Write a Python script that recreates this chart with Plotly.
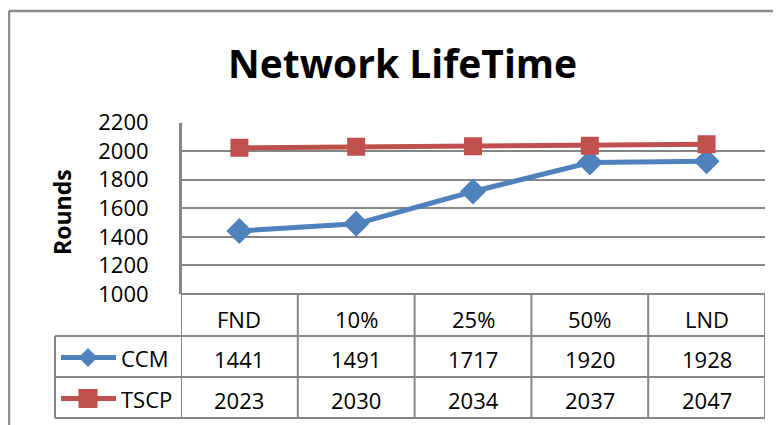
import plotly.graph_objects as go

categories = ["FND", "10%", "25%", "50%", "LND"]
ccm = [1441, 1491, 1717, 1920, 1928]
tscp = [2023, 2030, 2034, 2037, 2047]
series_names = ["CCM", "TSCP"]
y_ticks = [1000, 1200, 1400, 1600, 1800, 2000, 2200]

W, H = 781, 425
OFF = 8  # page body margin
BLUE = "#4F81BD"
RED = "#C0504D"
GRID = "#868686"
FONT = "Open Sans"


def px(x):
    return (x - OFF) / W


def py(y):
    return 1 - (y - OFF) / H


PL, PR, PT, PB = 181, 765, 122.5, 294
ROW1, ROW2, ROW3 = 336, 377, 418
LEGX = 55

fig = go.Figure()
fig.add_trace(go.Scatter(
    x=list(range(len(categories))), y=ccm, name=series_names[0], mode="lines+markers",
    line=dict(color=BLUE, width=5), marker=dict(symbol="diamond", size=20, color=BLUE),
    showlegend=False))
fig.add_trace(go.Scatter(
    x=list(range(len(categories))), y=tscp, name=series_names[1], mode="lines+markers",
    line=dict(color=RED, width=5), marker=dict(symbol="square", size=18, color=RED),
    showlegend=False))

shapes = []
# outer chart border
shapes.append(dict(type="line", xref="paper", yref="paper", x0=px(9), x1=px(800), y0=py(11), y1=py(11),
                   line=dict(color="#8c8c8c", width=2.5)))
shapes.append(dict(type="line", xref="paper", yref="paper", x0=px(9), x1=px(9), y0=py(11), y1=py(440),
                   line=dict(color="#8c8c8c", width=2.5)))
# table vertical lines
n = len(categories)
for i in range(n + 1):
    xv = i - 0.5
    top = PT if i == 0 else PB
    shapes.append(dict(type="line", xref="x", yref="paper", x0=xv, x1=xv, y0=py(top), y1=py(ROW3),
                       line=dict(color=GRID, width=2)))
# table horizontal lines
shapes.append(dict(type="line", xref="paper", yref="paper", x0=px(PL), x1=px(PR), y0=py(PB), y1=py(PB),
                   line=dict(color=GRID, width=2)))
for yy in (ROW1, ROW2, ROW3):
    shapes.append(dict(type="line", xref="paper", yref="paper", x0=px(LEGX), x1=px(PR), y0=py(yy), y1=py(yy),
                       line=dict(color=GRID, width=2)))
shapes.append(dict(type="line", xref="paper", yref="paper", x0=px(LEGX), x1=px(LEGX), y0=py(ROW1), y1=py(ROW3),
                   line=dict(color=GRID, width=2)))

# legend keys
key_y = [(ROW1 + ROW2) / 2 + 1, (ROW2 + ROW3) / 2 + 1]
cols = [BLUE, RED]
for k, (yk, c) in enumerate(zip(key_y, cols)):
    shapes.append(dict(type="line", xref="paper", yref="paper", x0=px(61), x1=px(116), y0=py(yk), y1=py(yk),
                       line=dict(color=c, width=5)))
cx = 88
d = 9.5
yk = key_y[0]
shapes.append(dict(type="path", xref="paper", yref="paper",
                   path=f"M {px(cx - d)},{py(yk)} L {px(cx)},{py(yk - d)} L {px(cx + d)},{py(yk)} L {px(cx)},{py(yk + d)} Z",
                   fillcolor=BLUE, line=dict(width=0)))
yk = key_y[1]
s = 9.5
shapes.append(dict(type="rect", xref="paper", yref="paper", x0=px(cx - s), x1=px(cx + s), y0=py(yk - s), y1=py(yk + s),
                   fillcolor=RED, line=dict(width=0)))

annotations = []
annotations.append(dict(text="<b>Network LifeTime</b>", xref="paper", yref="paper", x=px(403), y=py(63),
                        xanchor="center", yanchor="middle", showarrow=False,
                        font=dict(family=FONT, size=39, color="black")))
annotations.append(dict(text="<b>Rounds</b>", xref="paper", yref="paper", x=px(62), y=py(212),
                        xanchor="center", yanchor="middle", showarrow=False, textangle=-90,
                        font=dict(family=FONT, size=23, color="black")))
tfont = dict(family=FONT, size=22, color="black")
for i, c in enumerate(categories):
    annotations.append(dict(text=c, xref="x", yref="paper", x=i, y=py(319), xanchor="center", yanchor="middle",
                            showarrow=False, font=tfont))
    annotations.append(dict(text=str(ccm[i]), xref="x", yref="paper", x=i, y=py(359), xanchor="center",
                            yanchor="middle", showarrow=False, font=tfont))
    annotations.append(dict(text=str(tscp[i]), xref="x", yref="paper", x=i, y=py(400), xanchor="center",
                            yanchor="middle", showarrow=False, font=tfont))
for name, yk in zip(series_names, key_y):
    annotations.append(dict(text=name, xref="paper", yref="paper", x=px(119), y=py(yk), xanchor="left",
                            yanchor="middle", showarrow=False, font=tfont))

fig.update_layout(
    width=W, height=H,
    margin=dict(l=0, r=0, t=0, b=0, pad=0, autoexpand=False),
    paper_bgcolor="white", plot_bgcolor="white",
    xaxis=dict(domain=[px(PL), px(PR)], range=[-0.5, n - 0.5], showgrid=False, showticklabels=False,
               zeroline=False, showline=False, fixedrange=True, automargin=False),
    yaxis=dict(domain=[py(PB), py(PT)], range=[1000, 2200], tickvals=y_ticks, showgrid=True,
               gridcolor=GRID, gridwidth=2, zeroline=False, showline=True, linecolor=GRID, linewidth=2,
               ticks="", ticklabelstandoff=26, tickfont=dict(family=FONT, size=22, color="black"),
               fixedrange=True, automargin=False),
    shapes=shapes,
    annotations=annotations,
    font=dict(family=FONT),
)

fig.write_html("out.html")
